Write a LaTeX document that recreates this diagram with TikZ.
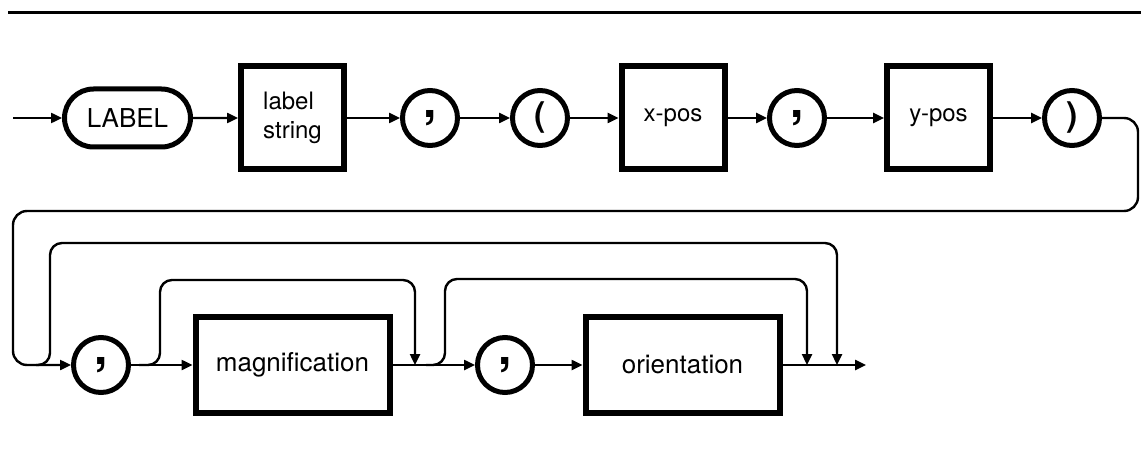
\documentclass[tikz,border=0pt]{standalone}
\usepackage{fontspec}
\setmainfont{TeX Gyre Heros}
\usetikzlibrary{arrows.meta,shapes.misc}

\begin{document}
\begin{tikzpicture}[x=0.5pt,y=-0.5pt,
  conn/.style={line width=1.2pt},
  arr/.style={conn,-{Triangle[length=5.5pt,width=5pt]}},
  loopline/.style={arr,rounded corners=6pt},
  termbox/.style={draw,line width=3pt,minimum width=51.5pt,minimum height=51.5pt,
    inner sep=0pt,font=\fontsize{12}{14.5}\selectfont},
  termwide/.style={termbox,minimum width=97pt,minimum height=48pt,
    font=\fontsize{13}{15}\selectfont},
  punct/.style={draw,circle,line width=2.5pt,minimum size=27.5pt,inner sep=0pt,
    font=\fontsize{24}{24}\bfseries\selectfont},
  paren/.style={punct,font=\fontsize{17}{17}\bfseries\selectfont},
  keyword/.style={draw,rounded rectangle,line width=2.5pt,minimum width=63pt,
    minimum height=29pt,inner sep=0pt,font=\fontsize{13}{13}\selectfont}]

\useasboundingbox (0,0) rectangle (1141,465);

% rule along the top of the page
\draw[line width=1.5pt] (8,13) -- (1141,13);

% first row
\coordinate (in) at (13,118);
\node[keyword] (kw) at (127.5,118) {LABEL};
\node[termbox,align=left] (str) at (292.5,118) {label\\string};
\node[punct] (c1) at (430,118) {,};
\node[paren] (lp) at (540,118) {(};
\node[termbox] (xp) at (673,118) {x-pos};
\node[punct] (c2) at (797,118) {,};
\node[termbox] (yp) at (938.5,118) {y-pos};
\node[paren] (rp) at (1072,118) {)};

% second row
\node[punct] (c3) at (101,365) {,};
\node[termwide] (mag) at (292.5,365) {magnification};
\node[punct] (c4) at (505,365) {,};
\node[termwide] (ori) at (682.5,365) {orientation};
\coordinate (out) at (866,365);

% helper points on the second-row line
\coordinate (j0) at (36,365);
\coordinate (j1) at (139,365);
\coordinate (j2) at (426,365);

% first-row connectors
\draw[arr] (in) -- (kw);
\draw[arr] (kw) -- (str);
\draw[arr] (str) -- (c1);
\draw[arr] (c1) -- (lp);
\draw[arr] (lp) -- (xp);
\draw[arr] (xp) -- (c2);
\draw[arr] (c2) -- (yp);
\draw[arr] (yp) -- (rp);

% return from the end of the first row to the start of the second
\draw[arr,rounded corners=7pt] (rp.east) -- (1138,118) -- (1138,211)
  -- (13,211) -- (13,365) -- (c3.west);

% second-row connectors
\draw[arr] (c3) -- (mag);
\draw[arr] (mag.east) -- (c4.west);
\draw[arr] (c4) -- (ori);
\draw[arr] (ori.east) -- (out);

% bypass loops
\draw[loopline] (j0) -- (50,365) -- (50,243) -- (837,243) -- (837,365);
\draw[loopline] (j1) -- (160,365) -- (160,280) -- (415,280) -- (415,365);
\draw[loopline] (j2) -- (445,365) -- (445,279) -- (807,279) -- (807,365);

\end{tikzpicture}
\end{document}
